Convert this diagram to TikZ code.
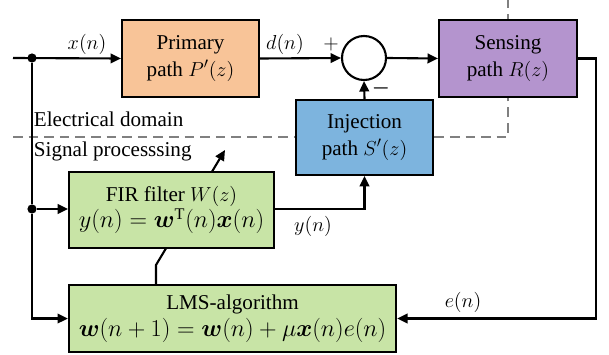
\documentclass[tikz,border=0pt]{standalone}
\usepackage{amsmath}
\usepackage{fontspec}
\setmainfont{Liberation Serif}
\usetikzlibrary{arrows.meta}

\definecolor{primfill}{RGB}{248,196,152}
\definecolor{sensefill}{RGB}{180,148,206}
\definecolor{injfill}{RGB}{125,180,222}
\definecolor{adfill}{RGB}{200,228,166}

\newcommand{\eqsize}{\fontsize{16.5}{19.5}\selectfont}

\begin{document}
\begin{tikzpicture}[x=0.025cm,y=-0.025cm,
		font=\fontsize{15}{19}\selectfont,
		block/.style={draw,line width=1.5pt,align=center,inner sep=0pt},
		wire/.style={line width=1.5pt},
		arr/.style={wire,-{Triangle[length=2.6mm,width=2.4mm]}},
		junction/.style={circle,fill,inner sep=0pt,minimum size=2.3mm},
		sepline/.style={gray,line width=1.4pt,dash pattern=on 2.4mm off 1.5mm}]

		\useasboundingbox (0,0) rectangle (609,354);

		% border between the two domains
		\draw[sepline] (13,137) -- (508,137) -- (508,0);

		\node[block,fill=primfill,minimum width=3.425cm,minimum height=1.925cm] (primary) at (190.5,58.5) {Primary\\path $P'(z)$};
		\node[draw,circle,line width=1.5pt,minimum size=1.1cm] (sum) at (364,58) {};
		\node[block,fill=sensefill,minimum width=3.45cm,minimum height=1.925cm] (sense) at (508,58.5) {Sensing\\path $R(z)$};
		\node[block,fill=injfill,minimum width=3.425cm,minimum height=1.875cm] (inj) at (364.5,137.5) {Injection\\path $S'(z)$};
		\node[block,fill=adfill,minimum width=8.175cm,minimum height=1.675cm] (lms) at (232.5,318.5) {LMS-algorithm\\\eqsize$\boldsymbol{w}(n+1)=\boldsymbol{w}(n)+\mu\boldsymbol{x}(n)e(n)$};

		% adaptation arrow through the filter
		\coordinate (kink) at (156,265);
		\coordinate (adapt) at (225,150);
		\draw[arr] (lms.north -| kink) -- (kink) -- (adapt);

		\node[block,fill=adfill,minimum width=5.125cm,minimum height=1.9cm] (fir) at (171.5,210) {FIR filter $W(z)$\\\eqsize$y(n)=\boldsymbol{w}^{\mathrm{T}}(n)\boldsymbol{x}(n)$};

		\node[anchor=west] (elec) at (29,119) {Electrical domain};
		\node[anchor=west] (sig) at (29,151) {Signal processsing};

		\coordinate (in) at (13,58);
		\node[junction] (split1) at (32,58) {};
		\node[junction] (split2) at (32,209) {};

		\draw[arr] (in) -- (primary.west);
		\draw[wire] (split1) -- (split2);
		\draw[arr] (split2) -- (fir.west |- split2);
		\draw[arr] (split2) |- (lms.west);
		\draw[arr] (primary.east) -- (sum.west);
		\draw[arr] (sum.east) -- (sense.west);
		\draw[arr] (inj.north) -- (sum.south);
		\draw[arr] (fir.east |- 0,209) -| (inj.south);
		\draw[arr] (sense.east) -- ++(18,0) |- (lms.east);

		\node (xlab) at (87,44) {$x(n)$};
		\node (dlab) at (285,44) {$d(n)$};
		\node (plus) at (331,44) {$+$};
		\node (minus) at (381,88) {$\boldsymbol{-}$};
		\node (ylab) at (313,226) {$y(n)$};
		\node (elab) at (463,302) {$e(n)$};
	\end{tikzpicture}
\end{document}
